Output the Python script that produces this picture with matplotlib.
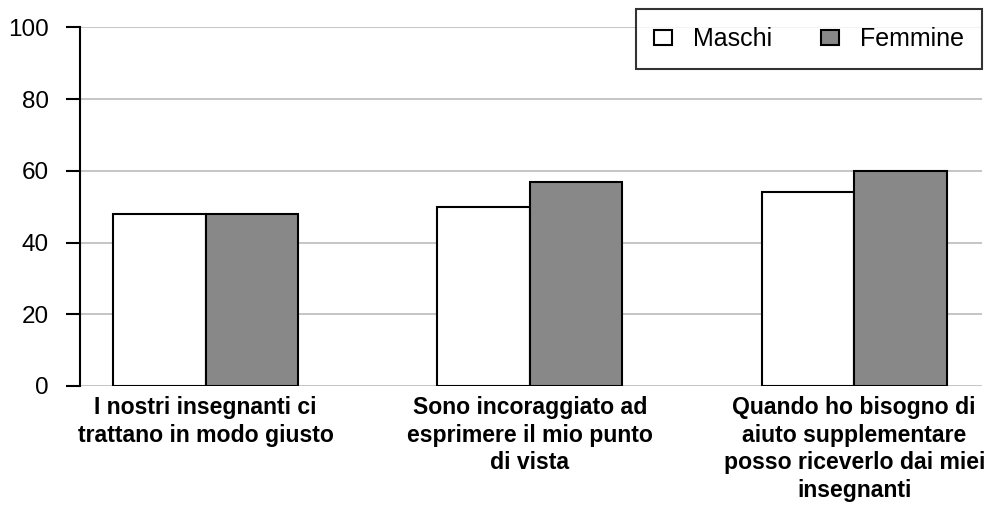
import matplotlib
matplotlib.use("Agg")
import matplotlib.pyplot as plt
from matplotlib.patches import Patch
import numpy as np

categories = [
    "I nostri insegnanti ci\ntrattano in modo giusto",
    "Sono incoraggiato ad\nesprimere il mio punto\ndi vista",
    "Quando ho bisogno di\naiuto supplementare\nposso riceverlo dai miei\ninsegnanti",
]
maschi = [48, 50, 54]
femmine = [48, 57, 60]
series_names = ["Maschi", "Femmine"]
yticks = [0, 20, 40, 60, 80, 100]

plt.rcParams['font.family'] = ['Liberation Sans', 'DejaVu Sans']

W, H = 989, 507
fig = plt.figure(figsize=(W / 100, H / 100), dpi=100)
left, right, top, bottom = 80, 981.7, 27.3, 386
ax = fig.add_axes([left / W, 1 - bottom / H, (right - left) / W, (bottom - top) / H])

x = np.arange(len(categories))
bw = 0.285
ax.bar(x - bw / 2, maschi, bw, color="white", edgecolor="black", linewidth=1.5, zorder=3)
ax.bar(x + bw / 2, femmine, bw, color="#888888", edgecolor="black", linewidth=1.5, zorder=3)

ax.set_xlim(-0.387, 2.393)
ax.set_ylim(0, 100)
ax.set_yticks(yticks)
ax.set_yticklabels([str(v) for v in yticks], fontsize=17.5)
ax.set_xticks(x)
ax.set_xticklabels(categories, fontsize=16.6, fontweight="bold", linespacing=1.27)
ax.tick_params(axis="x", length=0, pad=7)
ax.tick_params(axis="y", length=10, width=1.5, pad=12.5, direction="out")

for s in ["top", "right", "bottom"]:
    ax.spines[s].set_visible(False)
ax.spines["left"].set_linewidth(1.5)
ax.spines["left"].set_zorder(4)

ax.grid(axis="y", color="#bbbbbb", linewidth=1.2, zorder=0)
ax.set_axisbelow(True)

handles = [Patch(facecolor="white", edgecolor="black", linewidth=1.5),
           Patch(facecolor="#888888", edgecolor="black", linewidth=1.5)]
leg = fig.legend(handles, series_names, loc="upper right",
                 bbox_to_anchor=(981.7 / W, 1 - 9.3 / H), ncol=2,
                 fontsize=18, frameon=True, fancybox=False, edgecolor="black",
                 handlelength=0.72, handleheight=0.52, handletextpad=0.84,
                 columnspacing=1.95, borderpad=0.72, borderaxespad=0)
leg.get_frame().set_linewidth(1.5)

fig.savefig("out.png", dpi=100)
